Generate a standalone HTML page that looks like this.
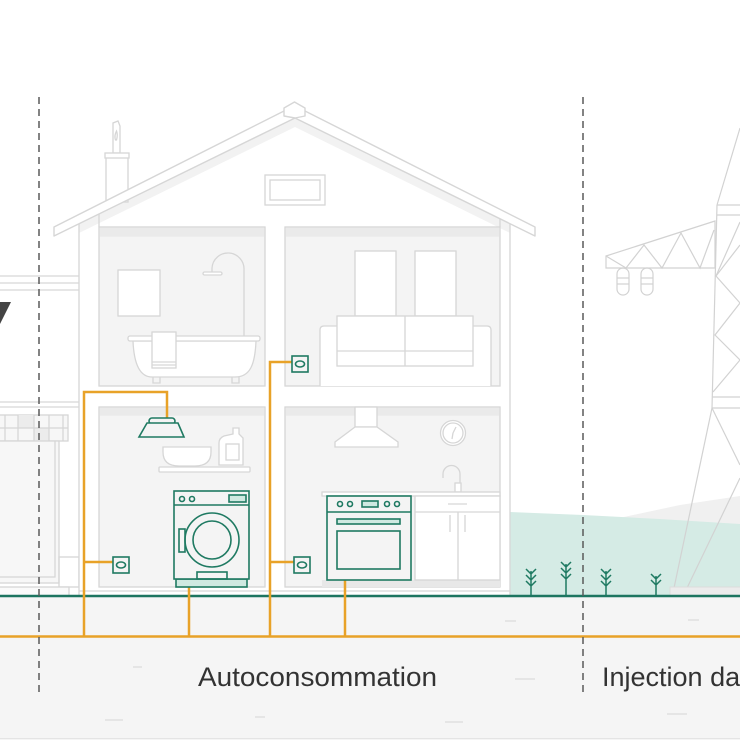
<!DOCTYPE html>
<html><head><meta charset="utf-8"><style>
html,body{margin:0;padding:0;background:#fff;width:740px;height:740px;overflow:hidden}
svg{display:block}
text{font-family:"Liberation Sans",sans-serif}
</style></head><body>
<svg width="740" height="740" viewBox="0 0 740 740" xmlns="http://www.w3.org/2000/svg">
<rect width="740" height="740" fill="#fff"/>
<!-- ground strip -->
<rect x="0" y="597" width="740" height="143" fill="#f5f5f5"/>
<line x1="0" y1="738.5" x2="740" y2="738.5" stroke="#e4e4e4" stroke-width="1"/>

<!-- back hills -->
<polygon points="610,520 680,505 740,496 740,596 610,596" fill="#f0f0f0"/>
<polygon points="510,512 583,515 660,519 740,524 740,596 510,596" fill="#d5ebe5"/>

<!-- left neighbour structure -->
<g fill="none" stroke="#d6d6d6" stroke-width="1.3">
<line x1="0" y1="276" x2="79" y2="276"/>
<line x1="0" y1="283" x2="79" y2="283"/>
<line x1="0" y1="290" x2="79" y2="290"/>
<line x1="0" y1="402" x2="79" y2="402"/>
<line x1="0" y1="407" x2="79" y2="407"/>
<rect x="-2" y="415" width="70" height="26" fill="#f7f7f7"/>
<rect x="18" y="415" width="16" height="13" fill="#ececec" stroke="none"/>
<rect x="34" y="428" width="15" height="13" fill="#ececec" stroke="none"/>
<line x1="0" y1="428" x2="68" y2="428"/>
<line x1="5" y1="415" x2="5" y2="441"/>
<line x1="18" y1="415" x2="18" y2="441"/>
<line x1="34" y1="415" x2="34" y2="441"/>
<line x1="49" y1="415" x2="49" y2="441"/>
<line x1="63" y1="415" x2="63" y2="441"/>
<rect x="-2" y="441" width="61" height="142" fill="#f7f7f7"/>
<polyline points="-2,577 55,577 55,441"/>
<rect x="59" y="557" width="20" height="30"/>
<rect x="-2" y="587" width="71" height="9" fill="#fafafa"/>
</g>
<polygon points="0,302 11,302 0,324" fill="#444"/>

<!-- gable & house body -->
<polygon points="79,224 295,117 510,224 510,596 79,596" fill="#fff"/>
<polygon points="79,224 295,117 510,224 510,233 295,127 79,233" fill="#f2f2f2"/>
<g fill="none" stroke="#d6d6d6" stroke-width="1.3">
<line x1="79" y1="224" x2="79" y2="596"/>
<line x1="99" y1="214" x2="99" y2="227"/>
<line x1="500" y1="218" x2="500" y2="227"/>
<line x1="510" y1="223" x2="510" y2="596"/>
<line x1="79" y1="591" x2="510" y2="591"/>
<!-- attic window -->
<rect x="265" y="175" width="60" height="30" fill="#fff"/>
<rect x="270" y="180" width="50" height="20"/>
</g>

<!-- chimney -->
<g fill="#fff" stroke="#d6d6d6" stroke-width="1.3">
<path d="M113,153 V123 L118,121 L120,126 V153 Z"/>
<path d="M115.5,140 q-1.5,-4 1,-9 q1.5,4 0,9 z" fill="none"/>
<rect x="106" y="157" width="22" height="45"/>
<rect x="105" y="153" width="24" height="5"/>
</g>

<!-- roof -->
<g fill="#fff" stroke="#d6d6d6" stroke-width="1.4" stroke-linejoin="round">
<polygon points="54,227 284,111 305,111 535,227 535,236 295,118 54,236"/>
<polygon points="284,116 284,108 294.5,102 305,108 305,116 295,118"/>
</g>

<!-- rooms -->
<g stroke="#d6d6d6" stroke-width="1.3">
<rect x="99" y="227" width="166" height="159" fill="#f4f4f4"/>
<rect x="285" y="227" width="215" height="159" fill="#f4f4f4"/>
<rect x="99" y="407" width="166" height="180" fill="#f4f4f4"/>
<rect x="285" y="407" width="215" height="180" fill="#f4f4f4"/>
</g>
<g fill="#eaeaea">
<rect x="99.7" y="227.7" width="164.6" height="9"/>
<rect x="285.7" y="227.7" width="213.6" height="9"/>
<rect x="99.7" y="407.7" width="164.6" height="8"/>
<rect x="285.7" y="407.7" width="213.6" height="8"/>
<rect x="322" y="580" width="178" height="7" fill="#e8e8e8"/>
</g>

<!-- bathroom -->
<g fill="#fff" stroke="#d6d6d6" stroke-width="1.3">
<rect x="118" y="270" width="42" height="46"/>
<path d="M212,272 V268 A16,16 0 0 1 244,270 V337" fill="none"/>
<rect x="203" y="272" width="19" height="3" rx="1.5"/>
<path d="M133,341 C134,365 140,377 152,377 H235 C250,377 255,365 256,341 Z"/>
<rect x="128" y="336" width="132" height="5" rx="2"/>
<path d="M153,377 v6 h7 v-6 M232,377 v6 h7 v-6" fill="none"/>
<rect x="152" y="332" width="24" height="36"/>
<line x1="152" y1="362" x2="176" y2="362"/>
<line x1="152" y1="365" x2="176" y2="365"/>
</g>

<!-- living room -->
<g fill="#fff" stroke="#d6d6d6" stroke-width="1.3">
<rect x="355" y="251" width="41" height="65"/>
<rect x="415" y="251" width="41" height="65"/>
<path d="M320,386 V330 q0,-4 4,-4 H487 q4,0 4,4 V386"/>
<rect x="337" y="316" width="136" height="50"/>
<line x1="405" y1="316" x2="405" y2="366"/>
<line x1="337" y1="351" x2="473" y2="351"/>
</g>

<!-- laundry room -->
<g fill="#fff" stroke="#d6d6d6" stroke-width="1.3">
<rect x="159" y="467" width="91" height="5" rx="1"/>
<path d="M163,447 H211 V452 C211,462 205,466 195,466 H179 C169,466 163,462 163,452 Z"/>
<path d="M233,428 h6 v6 l4,4 v27 h-24 v-22 q0,-5 5,-7 l9,-2 z"/>
<rect x="226" y="444" width="13" height="16"/>
</g>

<!-- kitchen -->
<g fill="#fff" stroke="#d6d6d6" stroke-width="1.3">
<rect x="355" y="407" width="22" height="20"/>
<polygon points="355,427 377,427 398,442 398,447 335,447 335,442"/>
<circle cx="453" cy="433" r="12.5"/>
<circle cx="453" cy="433" r="10" fill="none"/>
<path d="M453,433 l3,-6 M453,433 l-1,6" fill="none"/>
<path d="M443,478 V474 a8.5,8.5 0 0 1 17,0 V483" fill="none"/>
<rect x="455" y="483" width="6" height="9"/>
<rect x="322" y="492" width="178" height="4"/>
<rect x="415" y="496" width="85" height="84"/>
<line x1="415" y1="512" x2="500" y2="512"/>
<line x1="458" y1="512" x2="458" y2="580"/>
<line x1="448" y1="504" x2="467" y2="504"/>
<line x1="450" y1="515" x2="450" y2="532"/>
<line x1="465" y1="515" x2="465" y2="532"/>
</g>

<!-- tower -->
<g fill="none" stroke="#d2d2d2" stroke-width="1.2">
<line x1="740" y1="128" x2="717" y2="205"/>
<line x1="717" y1="205" x2="740" y2="205"/>
<line x1="717" y1="215" x2="740" y2="215"/>
<line x1="717" y1="205" x2="712" y2="408"/>
<line x1="712" y1="397" x2="740" y2="397"/>
<line x1="712" y1="408" x2="740" y2="408"/>
<polyline points="740,222 716,276 740,303 715,335 740,360 713,392"/>
<polyline points="740,245 716,276"/>
<line x1="712" y1="408" x2="674" y2="588"/>
<line x1="712" y1="408" x2="740" y2="465"/>
<line x1="740" y1="478" x2="687" y2="588"/>
<!-- crossarm -->
<polygon points="606,256 715,221 715,268 606,268"/>
<polyline points="606,256 626,268 644,245 662,268 681,233 700,268 714,230"/>
<rect x="617" y="268" width="12" height="27" rx="6"/>
<rect x="641" y="268" width="12" height="27" rx="6"/>
<line x1="617" y1="278" x2="629" y2="278"/>
<line x1="617" y1="284" x2="629" y2="284"/>
<line x1="641" y1="278" x2="653" y2="278"/>
<line x1="641" y1="284" x2="653" y2="284"/>
</g>
<rect x="670" y="587" width="72" height="9" fill="#ececec" stroke="#dcdcdc" stroke-width="1"/>

<!-- plants -->
<g fill="none" stroke="#1f7a62" stroke-width="1.5">
<path d="M531,596 V571 M526,569 l5,5 l5,-5 M526,575 l5,5 l5,-5 M526,581 l5,5 l5,-5"/>
<path d="M566,596 V564 M561,562 l5,5 l5,-5 M561,568 l5,5 l5,-5 M561,574 l5,5 l5,-5"/>
<path d="M606,596 V571 M601,569 l5,5 l5,-5 M601,575 l5,5 l5,-5 M601,581 l5,5 l5,-5"/>
<path d="M656,596 V576 M651,574 l5,5 l5,-5 M651,580 l5,5 l5,-5"/>
</g>

<!-- ground line -->
<line x1="0" y1="596" x2="740" y2="596" stroke="#1d7560" stroke-width="2.5"/>

<!-- ground dashes -->
<g stroke="#dcdcdc" stroke-width="1.3">
<line x1="133" y1="667" x2="142" y2="667"/>
<line x1="105" y1="720" x2="123" y2="720"/>
<line x1="255" y1="717" x2="265" y2="717"/>
<line x1="445" y1="722" x2="463" y2="722"/>
<line x1="505" y1="621" x2="516" y2="621"/>
<line x1="688" y1="620" x2="699" y2="620"/>
<line x1="515" y1="679" x2="535" y2="679"/>
<line x1="667" y1="714" x2="687" y2="714"/>
</g>

<!-- wiring -->
<g fill="none" stroke="#e8a228" stroke-width="2.5" stroke-linejoin="miter">
<line x1="0" y1="636.5" x2="740" y2="636.5"/>
<polyline points="84,636.5 84,392 167,392 167,418"/>
<line x1="84" y1="562" x2="113" y2="562"/>
<line x1="189" y1="587" x2="189" y2="636.5"/>
<polyline points="270,636.5 270,362 292,362"/>
<line x1="270" y1="562" x2="294" y2="562"/>
<line x1="345" y1="580" x2="345" y2="636.5"/>
</g>

<!-- green appliances -->
<g stroke="#1f7a62" stroke-width="1.6">
<!-- lamp -->
<rect x="149" y="418" width="26" height="6" rx="3" fill="#f4f4f4"/>
<polygon points="147,423 178,423 184,437 139,437" fill="#f4f4f4"/>
<!-- sockets -->
<rect x="113" y="557" width="16" height="16" fill="#f4f4f4"/>
<ellipse cx="121" cy="565" rx="4.5" ry="3" fill="none"/>
<rect x="294" y="557" width="16" height="16" fill="#f4f4f4"/>
<ellipse cx="302" cy="565" rx="4.5" ry="3" fill="none"/>
<rect x="292" y="356" width="16" height="16" fill="#f4f4f4"/>
<ellipse cx="300" cy="364" rx="4.5" ry="3" fill="none"/>
<!-- washer -->
<rect x="176" y="579" width="71" height="8" fill="#cfe9e1"/>
<rect x="174" y="491" width="75" height="88" fill="#f4f4f4"/>
<line x1="174" y1="505" x2="249" y2="505"/>
<circle cx="182" cy="499" r="2.5" fill="none"/>
<circle cx="192" cy="499" r="2.5" fill="none"/>
<rect x="229" y="495" width="17" height="7" fill="#cfe9e1"/>
<circle cx="212" cy="540" r="27" fill="none"/>
<circle cx="212" cy="540" r="19" fill="none"/>
<rect x="179" y="529" width="6" height="23" fill="none"/>
<rect x="197" y="572" width="30" height="7" fill="none"/>
<!-- oven -->
<rect x="327" y="496" width="84" height="84" fill="#f4f4f4"/>
<line x1="327" y1="512" x2="411" y2="512"/>
<circle cx="340" cy="504" r="2.5" fill="none"/>
<circle cx="350" cy="504" r="2.5" fill="none"/>
<circle cx="387" cy="504" r="2.5" fill="none"/>
<circle cx="397" cy="504" r="2.5" fill="none"/>
<rect x="362" y="501" width="16" height="6" fill="#cfe9e1"/>
<rect x="337" y="519" width="63" height="5" fill="#cfe9e1"/>
<rect x="337" y="531" width="63" height="38" fill="none"/>
</g>

<!-- dashed dividers -->
<g stroke="#5a5a5a" stroke-width="1.5" stroke-dasharray="7 5">
<line x1="39" y1="97" x2="39" y2="693"/>
<line x1="583" y1="97" x2="583" y2="693"/>
</g>

<!-- labels -->
<text x="198" y="686" font-size="27" fill="#333" textLength="239" lengthAdjust="spacingAndGlyphs">Autoconsommation</text>
<text x="602" y="686" font-size="27" fill="#333">Injection dans le réseau</text>
</svg>
</body></html>
